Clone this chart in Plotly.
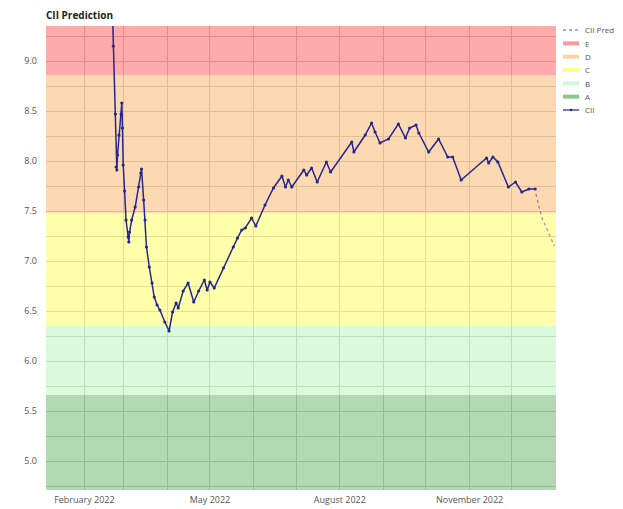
import plotly.graph_objects as go

# ---------------- data ----------------
cii_dates = ["2022-02-20 12:00", "2022-02-21 12:00", "2022-02-23 00:00", "2022-02-23 12:00",
             "2022-02-24 00:00", "2022-02-24 12:00", "2022-02-25 12:00", "2022-02-27 00:00",
             "2022-02-27 12:00", "2022-02-28 00:00", "2022-02-28 12:00", "2022-03-01 12:00",
             "2022-03-02 12:00", "2022-03-04 00:00", "2022-03-04 12:00", "2022-03-05 00:00",
             "2022-03-06 12:00", "2022-03-09 00:00", "2022-03-11 12:00", "2022-03-13 00:00",
             "2022-03-13 12:00", "2022-03-15 00:00", "2022-03-16 00:00", "2022-03-17 00:00",
             "2022-03-19 00:00", "2022-03-21 00:00", "2022-03-22 12:00", "2022-03-24 12:00",
             "2022-03-26 12:00", "2022-03-30 00:00", "2022-04-02 00:00", "2022-04-04 12:00",
             "2022-04-07 00:00", "2022-04-08 12:00", "2022-04-12 00:00", "2022-04-15 12:00",
             "2022-04-19 12:00", "2022-04-23 00:00", "2022-04-27 00:00", "2022-04-29 00:00",
             "2022-05-01 00:00", "2022-05-04 00:00", "2022-05-10 12:00", "2022-05-17 12:00",
             "2022-05-20 12:00", "2022-05-23 12:00", "2022-05-26 00:00", "2022-05-30 12:00",
             "2022-06-02 12:00", "2022-06-09 00:00", "2022-06-15 00:00", "2022-06-21 00:00",
             "2022-06-23 12:00", "2022-06-25 12:00", "2022-06-28 00:00", "2022-07-06 12:00",
             "2022-07-08 12:00", "2022-07-12 00:00", "2022-07-16 00:00", "2022-07-22 12:00",
             "2022-07-25 12:00", "2022-08-09 12:00", "2022-08-11 00:00", "2022-08-19 00:00",
             "2022-08-23 12:00", "2022-08-26 00:00", "2022-08-29 12:00", "2022-09-04 12:00",
             "2022-09-11 12:00", "2022-09-16 12:00", "2022-09-19 12:00", "2022-09-24 00:00",
             "2022-09-26 00:00", "2022-10-03 00:00", "2022-10-10 00:00", "2022-10-16 12:00",
             "2022-10-20 00:00", "2022-10-26 00:00", "2022-11-13 00:00", "2022-11-14 12:00",
             "2022-11-17 12:00", "2022-11-21 00:00", "2022-11-28 12:00", "2022-12-03 12:00",
             "2022-12-08 00:00", "2022-12-13 00:00", "2022-12-17 12:00"]
cii_values = [9.70, 9.15, 8.47, 7.94, 7.91, 8.06, 8.26, 8.47, 8.58, 8.33, 7.96, 7.70, 7.41,
              7.24, 7.19, 7.29, 7.41, 7.54, 7.74, 7.88, 7.92, 7.61, 7.41, 7.14, 6.94, 6.78,
              6.64, 6.56, 6.51, 6.39, 6.30, 6.49, 6.58, 6.53, 6.70, 6.78, 6.59, 6.70, 6.81,
              6.71, 6.79, 6.73, 6.93, 7.14, 7.23, 7.31, 7.33, 7.43, 7.35, 7.56, 7.73, 7.85,
              7.74, 7.81, 7.74, 7.91, 7.86, 7.93, 7.79, 7.99, 7.89, 8.19, 8.09, 8.26, 8.38,
              8.29, 8.18, 8.22, 8.37, 8.23, 8.33, 8.36, 8.28, 8.09, 8.22, 8.04, 8.04, 7.81,
              8.03, 7.98, 8.04, 7.99, 7.74, 7.79, 7.69, 7.72, 7.72]

pred_dates = ["2022-12-18 00:00", "2022-12-22 00:00", "2022-12-27 00:00", "2022-12-31 00:00"]
pred_values = [7.67, 7.44, 7.28, 7.15]

band_names = ["E", "D", "C", "B", "A"]
band_lower = [8.86, 7.48, 6.35, 5.66, 4.00]
band_upper = [10.50, 8.86, 7.48, 6.35, 5.66]
band_colors = ["rgba(255,0,0,0.33)", "rgba(250,150,40,0.36)", "rgba(255,255,0,0.33)",
               "rgba(144,238,144,0.32)", "rgba(0,128,0,0.30)"]
legend_band_colors = ["rgba(255,0,0,0.40)", "rgba(250,150,40,0.42)", "rgba(255,255,0,0.45)",
                      "rgba(144,238,144,0.40)", "rgba(0,128,0,0.45)"]

x_range = ["2022-01-04 19:00", "2023-01-01 05:00"]
y_range = [4.71, 9.35]

LINE_COLOR = "#26268f"

# ---------------- figure ----------------
# the page body has an 8px margin, so the figure is drawn 8px in from the window edge
OFF = 8
W, H = 623 - OFF, 509 - OFF
ML, MR, MT, MB = 46 - OFF, 67, 26 - OFF, 19
PW, PH = W - ML - MR, H - MT - MB

fig = go.Figure()

for name, lo, hi, col in zip(band_names, band_lower, band_upper, band_colors):
    fig.add_trace(go.Scatter(
        x=[x_range[0], x_range[1], x_range[1], x_range[0], x_range[0]],
        y=[lo, lo, hi, hi, lo],
        fill="toself", fillcolor=col, mode="lines", line=dict(width=0),
        name=name, showlegend=False, hoverinfo="skip"))

fig.add_trace(go.Scatter(
    x=cii_dates, y=cii_values, mode="lines+markers", name="CII",
    line=dict(color=LINE_COLOR, width=1.5),
    marker=dict(color=LINE_COLOR, size=3.2), showlegend=False))

fig.add_trace(go.Scatter(
    x=pred_dates, y=pred_values, mode="lines", name="CII Pred",
    line=dict(color="rgba(60,60,150,0.55)", width=1.2, dash="dot"), showlegend=False))


def px_x(px):  # window px -> paper fraction
    return (px - OFF - ML) / PW


def px_y(py):
    return (H - MB - (py - OFF)) / PH


# custom legend (compact, as in the reference)
shapes = []
annotations = []
leg_x0, leg_x1, txt_x = 563, 579, 583
items = ["CII Pred"] + band_names + ["CII"]
for i, label in enumerate(items):
    cy = 30 + i * 13.33
    if label == "CII Pred":
        shapes.append(dict(type="line", xref="paper", yref="paper",
                           x0=px_x(leg_x0), x1=px_x(leg_x1), y0=px_y(cy), y1=px_y(cy),
                           line=dict(color="rgba(40,40,150,0.8)", width=1.2, dash="dot")))
    elif label == "CII":
        shapes.append(dict(type="line", xref="paper", yref="paper",
                           x0=px_x(leg_x0), x1=px_x(leg_x1), y0=px_y(cy), y1=px_y(cy),
                           line=dict(color=LINE_COLOR, width=1.2)))
        shapes.append(dict(type="circle", xref="paper", yref="paper",
                           x0=px_x(569.8), x1=px_x(572.4), y0=px_y(cy + 1.3), y1=px_y(cy - 1.3),
                           fillcolor=LINE_COLOR, line=dict(width=0)))
    else:
        col = legend_band_colors[band_names.index(label)]
        shapes.append(dict(type="rect", xref="paper", yref="paper",
                           x0=px_x(leg_x0), x1=px_x(leg_x1), y0=px_y(cy + 2), y1=px_y(cy - 2),
                           fillcolor=col, line=dict(width=0)))
    annotations.append(dict(text=label, xref="paper", yref="paper",
                            x=px_x(txt_x), y=px_y(cy), xanchor="left", yanchor="middle",
                            showarrow=False, font=dict(size=8, color="#555555")))

fig.update_layout(
    width=W, height=H,
    margin=dict(l=ML, r=MR, t=MT, b=MB),
    paper_bgcolor="white", plot_bgcolor="white",
    font=dict(family="Open Sans", size=9, color="#555555"),
    title=dict(text="<b>CII Prediction</b>", x=0, xref="paper", xanchor="left",
               y=1 - (15 - OFF) / H, yref="container", yanchor="middle",
               font=dict(size=10, color="#222222")),
    showlegend=False,
    shapes=shapes, annotations=annotations,
)

fig.update_xaxes(
    range=x_range, type="date", tick0="2022-02-01", dtick="M3", tickformat="%B %Y",
    showgrid=True, gridcolor="#d4d4d4", gridwidth=1, zeroline=False, showline=False,
    ticks="", ticklabelstandoff=3, automargin=False,
    minor=dict(dtick="M1", showgrid=True, gridcolor="#d4d4d4", gridwidth=1),
    tickfont=dict(size=9, color="#555555"))

fig.update_yaxes(
    range=y_range, dtick=0.5, tick0=0, tickformat=".1f",
    showgrid=True, gridcolor="#d4d4d4", gridwidth=1, zeroline=False, showline=False,
    ticks="", ticklabelstandoff=8, automargin=False,
    minor=dict(dtick=0.25, showgrid=True, gridcolor="#d4d4d4", gridwidth=1),
    tickfont=dict(size=9, color="#555555"))

fig.write_html("out.html")
